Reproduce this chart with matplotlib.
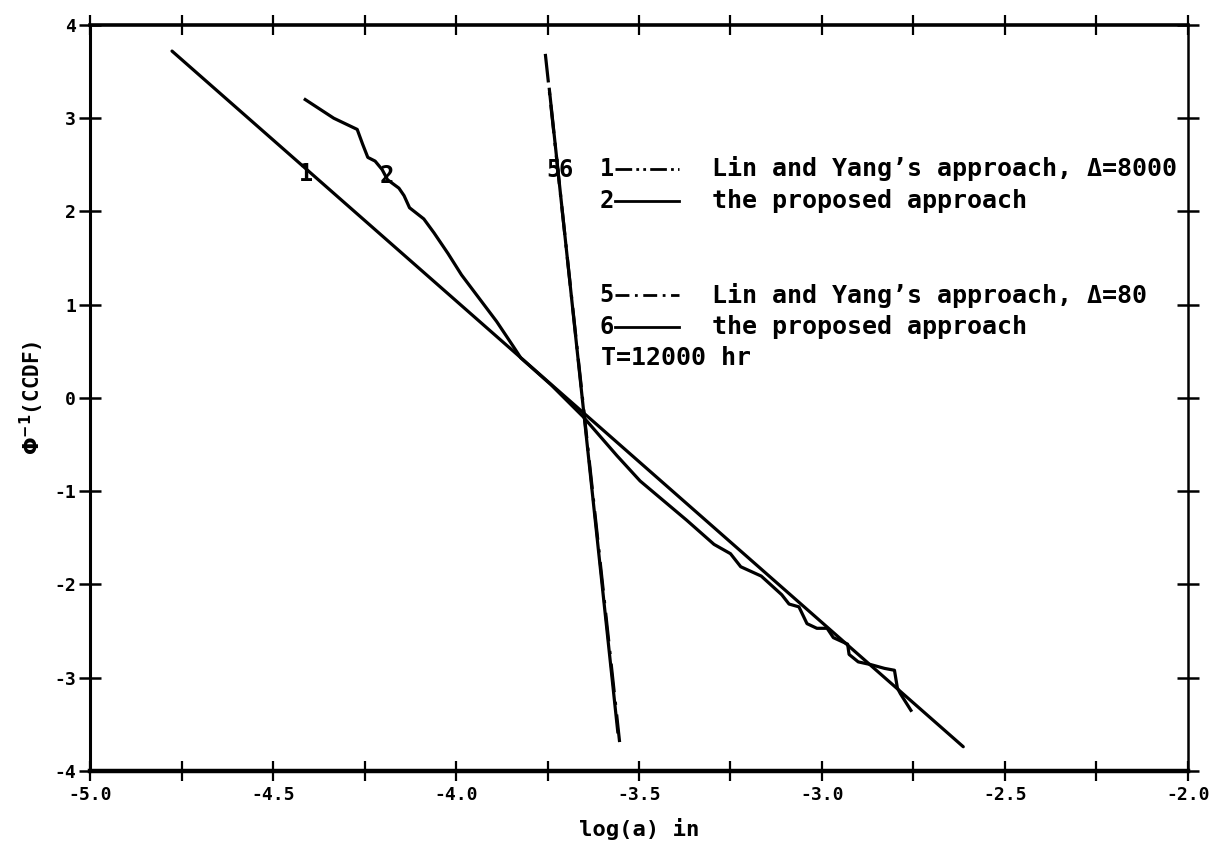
import matplotlib
matplotlib.use("Agg")
import matplotlib.pyplot as plt
from matplotlib.lines import Line2D
from matplotlib.ticker import MultipleLocator, FormatStrFormatter

plt.rcParams["font.family"] = ["DejaVu Sans Mono", "DejaVu Sans"]
plt.rcParams["font.weight"] = "bold"
plt.rcParams["mathtext.fontset"] = "dejavusans"
plt.rcParams["axes.unicode_minus"] = False

# Curve 1: Lin and Yang's approach, Delta = 8000
lin8000_x = [-4.776, -2.614]
lin8000_y = [3.72, -3.74]

# Curve 2: the proposed approach, Delta = 8000
prop8000_x = [-4.412, -4.334, -4.270, -4.255, -4.241, -4.221, -4.202, -4.187,
              -4.156, -4.142, -4.127, -4.088, -4.060, -4.022, -3.985, -3.937,
              -3.889, -3.843, -3.823, -3.740, -3.653, -3.560, -3.497, -3.370,
              -3.295, -3.250, -3.222, -3.166, -3.110, -3.090, -3.063, -3.041,
              -3.014, -2.986, -2.969, -2.930, -2.926, -2.901, -2.866, -2.829,
              -2.802, -2.794, -2.786, -2.757]
prop8000_y = [3.20, 3.00, 2.88, 2.72, 2.58, 2.54, 2.45, 2.34,
              2.25, 2.17, 2.04, 1.92, 1.77, 1.55, 1.32, 1.07,
              0.82, 0.55, 0.43, 0.14, -0.20, -0.62, -0.89, -1.31,
              -1.57, -1.67, -1.81, -1.91, -2.11, -2.21, -2.24, -2.42,
              -2.47, -2.47, -2.57, -2.64, -2.75, -2.83, -2.86, -2.90,
              -2.92, -3.11, -3.17, -3.35]

# Curve 5: Lin and Yang's approach, Delta = 80
lin80_x = [-3.756, -3.553]
lin80_y = [3.69, -3.69]

# Curve 6: the proposed approach, Delta = 80
prop80_x = [-3.745, -3.558]
prop80_y = [3.31, -3.58]

x_ticks = [-5.0, -4.5, -4.0, -3.5, -3.0, -2.5, -2.0]
y_ticks = [-4, -3, -2, -1, 0, 1, 2, 3, 4]

legend_rows = [
    ("1", "Lin and Yang\u2019s approach, \u0394=8000", (0, (6, 1.5, 1, 1.5, 1, 1.5))),
    ("2", "the proposed approach", "-"),
    ("5", "Lin and Yang\u2019s approach, \u0394=80", (0, (5, 2, 1, 2))),
    ("6", "the proposed approach", "-"),
]
duration_note = "T=12000 hr"

fig = plt.figure(figsize=(12.10, 8.49), dpi=100)
ax = fig.add_axes([0.0744, 0.0919, 0.9074, 0.8787])

lw = 2.3
ax.plot(lin8000_x, lin8000_y, color="black", lw=lw, solid_capstyle="round")
ax.plot(prop8000_x, prop8000_y, color="black", lw=lw, solid_joinstyle="round")
ax.plot(lin80_x, lin80_y, color="black", lw=lw, linestyle=(0, (9, 3, 1, 3)))
ax.plot(prop80_x, prop80_y, color="black", lw=lw)

ax.set_xlim(-5.0, -2.0)
ax.set_ylim(-4, 4)
ax.set_xticks(x_ticks)
ax.xaxis.set_minor_locator(MultipleLocator(0.25))
ax.xaxis.set_major_formatter(FormatStrFormatter("%.1f"))
ax.set_yticks(y_ticks)

ax.tick_params(axis="both", which="both", direction="inout", colors="black",
               top=True, right=True, labeltop=False, labelright=False)
ax.tick_params(axis="x", which="major", length=14, width=1.6, labelsize=13, pad=4)
ax.tick_params(axis="x", which="minor", length=14, width=1.6)
ax.tick_params(axis="y", which="major", length=16, width=1.8, labelsize=13, pad=2)

for side, w in (("left", 2.2), ("right", 1.8), ("top", 2.6), ("bottom", 3.2)):
    ax.spines[side].set_linewidth(w)

for lab in ax.get_xticklabels() + ax.get_yticklabels():
    lab.set_fontweight("bold")

ax.set_xlabel("log(a) in", fontsize=16, fontweight="bold", labelpad=10)
ax.set_ylabel(r"$\mathbf{\Phi^{-1}}$(CCDF)", fontsize=15, fontweight="bold", labelpad=6)

# Curve identifiers written on the curves
ax.text(-4.41, 2.40, "1", fontsize=17, ha="center", va="center")
ax.text(-4.19, 2.38, "2", fontsize=17, ha="center", va="center")
ax.text(-3.735, 2.45, "5", fontsize=17, ha="center", va="center")
ax.text(-3.700, 2.45, "6", fontsize=17, ha="center", va="center")

# Key
row_y = [2.46, 2.11, 1.10, 0.76]
for (num, label, ls), yy in zip(legend_rows, row_y):
    ax.text(-3.588, yy, num, fontsize=17, ha="center", va="center")
    ax.add_line(Line2D([-3.565, -3.39], [yy, yy], color="black", lw=2.0,
                       linestyle=ls))
    ax.text(-3.30, yy, label, fontsize=18, ha="left", va="center")
ax.text(-3.605, 0.43, duration_note, fontsize=18, ha="left", va="center")

fig.savefig("out.png", dpi=100, facecolor="white")
